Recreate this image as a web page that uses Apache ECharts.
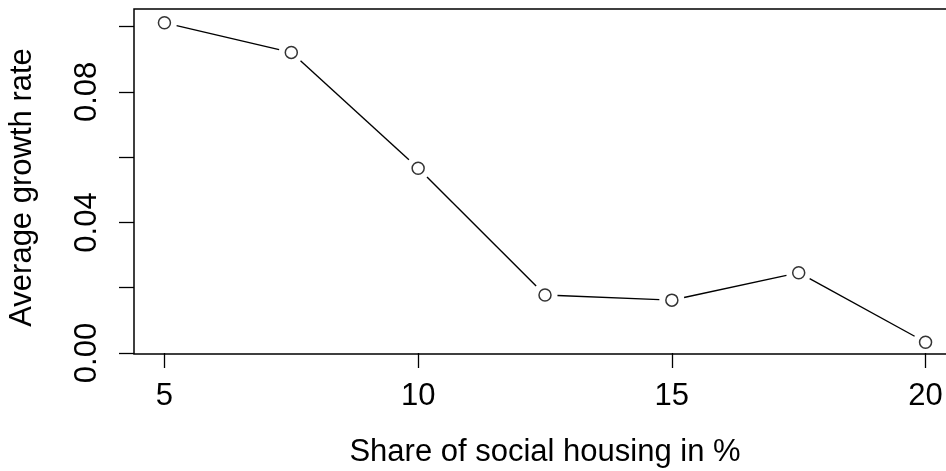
<!DOCTYPE html>
<html>
<head>
<meta charset="utf-8">
<script src="https://cdn.jsdelivr.net/npm/echarts@6/dist/echarts.min.js"></script>
<style>
html,body{margin:0;padding:0;background:#fff;}
#chart{width:946px;height:471px;}
</style>
</head>
<body>
<div id="chart"></div>
<script>
const shares = [5, 7.5, 10, 12.5, 15, 17.5, 20];
const growth = [0.1012, 0.0921, 0.0566, 0.0178, 0.0162, 0.0246, 0.0033];
const xTicks = [5, 10, 15, 20];
const yTicks = [0, 0.02, 0.04, 0.06, 0.08, 0.10];
const yLabels = [0, 0.04, 0.08];

const points = shares.map((s, i) => [s, growth[i]]);
const segments = [];
for (let i = 0; i < shares.length - 1; i++) {
  segments.push([shares[i], growth[i], shares[i + 1], growth[i + 1]]);
}
const GAP = 12.5;
const FONT = 'Liberation Sans, Arial, Helvetica, sans-serif';
const FS = 31;

const chart = echarts.init(document.getElementById('chart'), null, {renderer: 'canvas'});
chart.setOption({
  animation: false,
  backgroundColor: '#fff',
  grid: {left: 134, top: 9, width: 822, height: 345, show: true, borderColor: '#000', borderWidth: 1.5,
    backgroundColor: 'transparent', containLabel: false, outerBoundsMode: 'none'},
  xAxis: {
    type: 'value', min: 4.4, max: 20.6,
    splitLine: {show: false},
    axisLine: {show: false},
    axisTick: {show: true, customValues: xTicks, length: 15, lineStyle: {color: '#000', width: 1.3}},
    axisLabel: {customValues: xTicks, margin: 27, color: '#000', fontSize: FS, lineHeight: FS, fontFamily: FONT, hideOverlap: false},
    name: 'Share of social housing in %', nameLocation: 'middle', nameGap: 83,
    nameTextStyle: {color: '#000', fontSize: FS, lineHeight: FS, fontFamily: FONT}
  },
  yAxis: {
    type: 'value', min: -0.0003, max: 0.1054,
    splitLine: {show: false},
    axisLine: {show: false},
    axisTick: {show: true, customValues: yTicks, length: 15, lineStyle: {color: '#000', width: 1.3}},
    axisLabel: {customValues: yLabels, rotate: 90, margin: 31, color: '#000', fontSize: FS, lineHeight: FS, fontFamily: FONT,
      formatter: v => v.toFixed(2), hideOverlap: false},
    name: 'Average growth rate', nameLocation: 'middle', nameGap: 96,
    nameTextStyle: {color: '#000', fontSize: FS, lineHeight: FS, fontFamily: FONT, padding: [0, 12, 0, 0]}
  },
  series: [
    {
      type: 'custom',
      data: segments,
      silent: true,
      clip: false,
      renderItem: function (params, api) {
        const p1 = api.coord([api.value(0), api.value(1)]);
        const p2 = api.coord([api.value(2), api.value(3)]);
        const dx = p2[0] - p1[0], dy = p2[1] - p1[1];
        const len = Math.sqrt(dx * dx + dy * dy);
        if (len <= 2 * GAP) return null;
        const ux = dx / len, uy = dy / len;
        return {
          type: 'line',
          shape: {x1: p1[0] + ux * GAP, y1: p1[1] + uy * GAP, x2: p2[0] - ux * GAP, y2: p2[1] - uy * GAP},
          style: {stroke: '#000', lineWidth: 1.4}
        };
      }
    },
    {
      type: 'scatter',
      data: points,
      symbol: 'circle',
      symbolSize: 12,
      itemStyle: {color: '#fff', borderColor: '#000', borderWidth: 1.5},
      silent: true
    }
  ]
});
</script>
</body>
</html>
